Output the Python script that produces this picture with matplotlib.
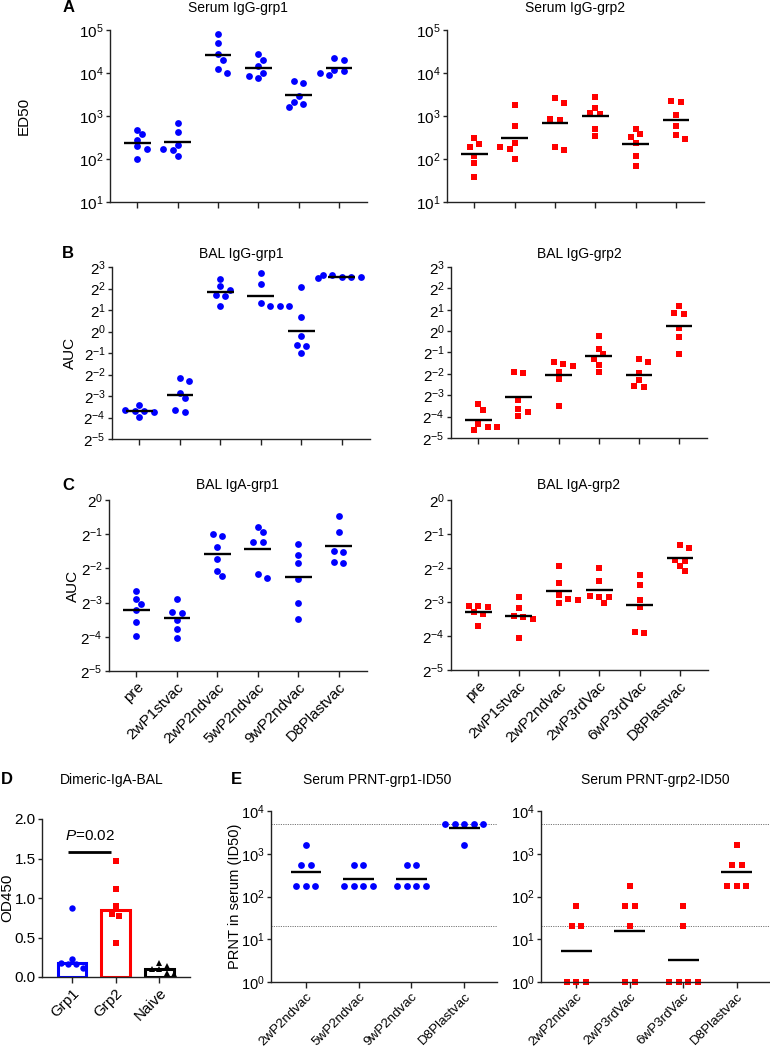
import numpy as np
import matplotlib
matplotlib.use('Agg')
import matplotlib.pyplot as plt
from matplotlib.ticker import NullLocator

plt.rcParams['font.family'] = ['Liberation Sans', 'DejaVu Sans']
plt.rcParams['mathtext.fontset'] = 'custom'
plt.rcParams['mathtext.rm'] = 'Liberation Sans'
plt.rcParams['mathtext.it'] = 'Liberation Sans:italic'
plt.rcParams['mathtext.bf'] = 'Liberation Sans:bold'

BLUE = '#0000ff'
RED = '#ff0000'

# ---- data ----
cats_grp1 = ['pre', '2wP1stvac', '2wP2ndvac', '5wP2ndvac', '9wP2ndvac', 'D8Plastvac']
cats_grp2 = ['pre', '2wP1stvac', '2wP2ndvac', '2wP3rdVac', '6wP3rdVac', 'D8Plastvac']

# A: serum IgG ED50
serum_igg_grp1 = [
    [484, 378, 283, 198, 169, 100],
    [693, 428, 209, 175, 163, 116],
    [82000, 50700, 28100, 20000, 12100, 10100],
    [28100, 20400, 14200, 10100, 8470, 7480],
    [6590, 5710, 2950, 2140, 1920, 1660],
    [22600, 20000, 11700, 11300, 9770, 8790],
]
serum_igg_grp2 = [
    [315, 229, 191, 116, 81, 38],
    [1850, 601, 237, 188, 175, 99],
    [2560, 2030, 860, 800, 188, 160],
    [2800, 1550, 1190, 1120, 493, 345],
    [511, 384, 321, 233, 116, 69],
    [2220, 2140, 1040, 580, 364, 294],
]

# B: BAL IgG AUC, as log2 values
bal_igg_grp1_log2 = [
    [-3.74, -3.66, -3.72, -3.72, -3.41, -3.96],
    [-2.31, -2.17, -3.10, -2.84, -3.76, -3.65],
    [2.43, 2.10, 1.94, 1.68, 1.67, 1.20],
    [2.72, 2.22, 1.32, 1.18, 1.18, 1.18],
    [2.07, 0.67, -0.23, -0.63, -0.68, -0.99],
    [2.53, 2.62, 2.55, 2.62, 2.47, 2.54],
]
bal_igg_grp2_log2 = [
    [-3.43, -3.68, -4.35, -4.50, -4.49, -4.63],
    [-1.90, -1.98, -3.24, -3.63, -3.80, -3.99],
    [-1.46, -1.54, -1.65, -1.91, -2.26, -3.49],
    [-0.23, -0.82, -1.09, -1.29, -1.57, -1.93],
    [-1.32, -1.46, -1.98, -2.29, -2.62, -2.59],
    [1.16, 0.83, 0.79, 0.16, -0.28, -1.09],
]

# C: BAL IgA AUC, as log2 values
bal_iga_grp1_log2 = [
    [-2.66, -2.89, -3.04, -3.22, -3.56, -3.97],
    [-2.90, -3.28, -3.31, -3.50, -3.76, -4.03],
    [-1.00, -1.05, -1.36, -1.72, -2.08, -2.23],
    [-0.79, -0.94, -1.23, -1.23, -2.16, -2.28],
    [-1.30, -1.62, -1.83, -2.30, -3.01, -3.48],
    [-0.48, -0.94, -1.52, -1.49, -1.84, -1.82],
]
bal_iga_grp2_log2 = [
    [-3.11, -3.12, -3.16, -3.29, -3.34, -3.72],
    [-2.84, -3.19, -3.40, -3.43, -3.50, -4.06],
    [-1.94, -2.45, -2.80, -2.90, -2.93, -3.04],
    [-2.00, -2.39, -2.81, -2.85, -2.85, -3.04],
    [-2.21, -2.50, -2.94, -3.16, -3.92, -3.88],
    [-1.32, -1.42, -1.75, -1.80, -1.94, -2.08],
]

# D: dimeric IgA in BAL (OD450)
dimeric_cats = ['Grp1', 'Grp2', 'Naive']
dimeric_grp1 = [0.87, 0.23, 0.18, 0.17, 0.16, 0.12]
dimeric_grp2 = [1.47, 1.11, 0.90, 0.80, 0.77, 0.43]
dimeric_naive = [0.18, 0.14, 0.10, 0.10, 0.05, 0.04]
p_text = '$P$=0.02'

# E: serum PRNT ID50
prnt_cats1 = ['2wP2ndvac', '5wP2ndvac', '9wP2ndvac', 'D8Plastvac']
prnt_cats2 = ['2wP2ndvac', '2wP3rdVac', '6wP3rdVac', 'D8Plastvac']
prnt_grp1 = [
    [1620, 540, 540, 180, 180, 180],
    [540, 540, 180, 180, 180, 180],
    [540, 540, 180, 180, 180, 180],
    [4860, 4860, 4860, 4860, 4860, 1620],
]
prnt_grp2 = [
    [60, 20, 20, 1, 1, 1],
    [180, 60, 60, 20, 1, 1],
    [60, 20, 1, 1, 1, 1],
    [1620, 540, 540, 180, 180, 180],
]
prnt_limits = [20, 4860]

# ---- layout ----
W, H = 770, 1051
fig = plt.figure(figsize=(W / 100, H / 100), dpi=100)


def box(x0, y0, x1, y1):
    return [x0 / W, 1 - y1 / H, (x1 - x0) / W, (y1 - y0) / H]


def ftext(x, y, s, **kw):
    fig.text(x / W, 1 - y / H, s, ha=kw.pop('ha', 'center'), va=kw.pop('va', 'center'), **kw)


def style(ax, xlim, labels=None, lsize=11, ysize=11):
    for side in ['top', 'right']:
        ax.spines[side].set_visible(False)
    for side in ['left', 'bottom']:
        ax.spines[side].set_linewidth(1.0)
        ax.spines[side].set_color('#222222')
    ax.set_xlim(*xlim)
    n = int(round(xlim[1]))
    ax.set_xticks(range(n))
    if labels is None:
        ax.set_xticklabels([])
    else:
        ax.set_xticklabels(labels, rotation=45, ha='right', rotation_mode='anchor', fontsize=lsize)
    ax.tick_params(axis='x', length=4.5, width=1, color='#222222', pad=2)
    ax.tick_params(axis='y', length=3, width=1, color='#222222', pad=1.5, labelsize=ysize)
    ax.yaxis.set_minor_locator(NullLocator())


def log_axis(ax, base, lo, hi):
    ax.set_yscale('log', base=base)
    ax.set_ylim(float(base) ** lo, float(base) ** hi)
    ks = np.arange(lo, hi + 1)
    ax.set_yticks(float(base) ** ks)
    ax.set_yticklabels(['$%d^{%d}$' % (base, k) for k in ks])
    ax.yaxis.set_minor_locator(NullLocator())


def spread(ax, vals, d=6.5, step=9.5):
    # x offsets (category units) so the markers of one column do not overlap
    vals = np.asarray(vals, float)
    ys = ax.transData.transform(np.column_stack([np.zeros(len(vals)), vals]))[:, 1]
    x0, x1 = ax.transData.transform([(0, 1), (1, 1)])[:, 0]
    unit = x1 - x0
    order = np.argsort(-ys, kind='stable')
    rows = []
    for i in order:
        if rows and ys[rows[-1][0]] - ys[i] < d * 0.45:
            rows[-1].append(i)
        else:
            rows.append([i])
    placed = []
    off = np.zeros(len(vals))
    shifts = [0, 0.5, -0.5, 1, -1, 1.5, -1.5, 2, -2, 2.5, -2.5]
    for row in rows:
        base = (np.arange(len(row)) - (len(row) - 1) / 2) * step
        for sh in shifts:
            xs = base + sh * step
            ok = all(np.hypot(x - px, ys[i] - py) >= d
                     for x, i in zip(xs, row) for px, py in placed)
            if ok:
                break
        for x, i in zip(xs, row):
            placed.append((x, ys[i]))
            off[i] = x / unit
    return off


def dots(ax, groups, color, marker, ms, half=0.33):
    for i, vals in enumerate(groups):
        vals = np.asarray(vals, float)
        off = spread(ax, vals)
        ax.plot(i + off, vals, ls='none', marker=marker, color=color, ms=ms,
                mew=0, clip_on=False, zorder=2)
        gm = 10 ** np.mean(np.log10(vals))
        ax.plot([i - half, i + half], [gm, gm], color='black', lw=1.7,
                solid_capstyle='butt', zorder=3)


XL6 = (-0.68, 5.7)

# A
axA1 = fig.add_axes(box(110, 30, 367, 202))
axA2 = fig.add_axes(box(447, 30, 704, 202))
for ax, data, col, mk, ms in [(axA1, serum_igg_grp1, BLUE, 'o', 4.9),
                             (axA2, serum_igg_grp2, RED, 's', 4.5)]:
    style(ax, XL6)
    log_axis(ax, 10, 1, 5)
    dots(ax, data, col, mk, ms)
axA1.set_ylabel('ED50', fontsize=11)
axA1.yaxis.set_label_coords(-0.307, 0.5)
ftext(238, 8, 'Serum IgG-grp1', fontsize=10)
ftext(575, 8, 'Serum IgG-grp2', fontsize=10)
ftext(69, 8, 'A', fontsize=12, fontweight='bold')

# B
axB1 = fig.add_axes(box(112, 267, 370, 439))
axB2 = fig.add_axes(box(451, 267, 707, 438))
for ax, data, col, mk, ms in [(axB1, bal_igg_grp1_log2, BLUE, 'o', 4.9),
                             (axB2, bal_igg_grp2_log2, RED, 's', 4.5)]:
    style(ax, XL6)
    log_axis(ax, 2, -5, 3)
    dots(ax, [2.0 ** np.asarray(g) for g in data], col, mk, ms)
axB1.set_ylabel('AUC', fontsize=11)
axB1.yaxis.set_label_coords(-0.136, 0.5)
ftext(241, 254, 'BAL IgG-grp1', fontsize=10)
ftext(579, 254, 'BAL IgG-grp2', fontsize=10)
ftext(68, 254, 'B', fontsize=12, fontweight='bold')

# C
axC1 = fig.add_axes(box(109, 500, 367, 671))
axC2 = fig.add_axes(box(451, 500, 708, 670))
for ax, data, cats, col, mk, ms in [(axC1, bal_iga_grp1_log2, cats_grp1, BLUE, 'o', 4.9),
                                   (axC2, bal_iga_grp2_log2, cats_grp2, RED, 's', 4.5)]:
    style(ax, XL6, cats)
    log_axis(ax, 2, -5, 0)
    dots(ax, [2.0 ** np.asarray(g) for g in data], col, mk, ms)
axC1.set_ylabel('AUC', fontsize=11)
axC1.yaxis.set_label_coords(-0.112, 0.5)
ftext(237, 485, 'BAL IgA-grp1', fontsize=10)
ftext(579, 485, 'BAL IgA-grp2', fontsize=10)
ftext(68, 485, 'C', fontsize=12, fontweight='bold')

# D
axD = fig.add_axes(box(42, 819, 190, 977))
style(axD, (-0.68, 2.7), dimeric_cats)
axD.set_ylim(0, 2.0)
axD.set_yticks([0, 0.5, 1.0, 1.5, 2.0])
axD.set_yticklabels(['0.0', '0.5', '1.0', '1.5', '2.0'])
for i, (vals, col, mk, ms) in enumerate([(dimeric_grp1, BLUE, 'o', 4.6),
                                         (dimeric_grp2, RED, 's', 4.3),
                                         (dimeric_naive, 'black', '^', 4.6)]):
    axD.bar(i, np.median(vals), width=0.65, facecolor='none', edgecolor=col,
            linewidth=2.2, zorder=1)
    off = spread(axD, vals, d=5.5, step=7.5)
    axD.plot(i + off, vals, ls='none', marker=mk, color=col, ms=ms, mew=0,
             zorder=2, clip_on=False)
axD.plot([-0.08, 0.9], [1.58, 1.58], color='black', lw=2, solid_capstyle='butt')
axD.text(0.41, 1.78, p_text, ha='center', va='center', fontsize=11)
axD.set_ylabel('OD450', fontsize=11)
axD.yaxis.set_label_coords(-0.19, 0.5)
ftext(112, 780, 'Dimeric-IgA-BAL', fontsize=10)
ftext(7, 780, 'D', fontsize=12, fontweight='bold')

# E
axE1 = fig.add_axes(box(271, 811, 497, 982))
axE2 = fig.add_axes(box(541, 811, 770, 982))
for ax, data, cats, col, mk, ms in [(axE1, prnt_grp1, prnt_cats1, BLUE, 'o', 4.9),
                                   (axE2, prnt_grp2, prnt_cats2, RED, 's', 4.5)]:
    style(ax, (-0.66, 3.62), cats, lsize=9.6, ysize=10.5)
    log_axis(ax, 10, 0, 4)
    for lim in prnt_limits:
        ax.axhline(lim, color='#777777', lw=0.7, ls=(0, (1.2, 1.2)), zorder=0)
    dots(ax, data, col, mk, ms, half=0.29)
axE1.set_ylabel('PRNT in serum (ID50)', fontsize=10.5)
axE1.yaxis.set_label_coords(-0.13, 0.5)
ftext(377, 780, 'Serum PRNT-grp1-ID50', fontsize=10)
ftext(655, 780, 'Serum PRNT-grp2-ID50', fontsize=10)
ftext(236, 780, 'E', fontsize=12, fontweight='bold')

fig.savefig('out.png', dpi=100)
